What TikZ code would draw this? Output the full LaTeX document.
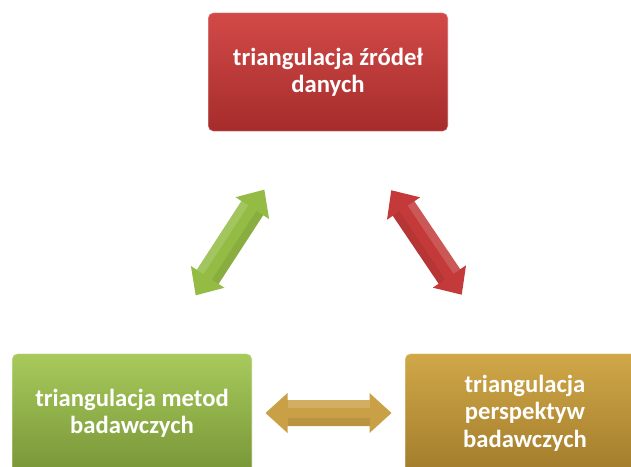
\documentclass[tikz,border=0pt]{standalone}
\usepackage{fontspec}
\setmainfont{Carlito}
\usetikzlibrary{calc}
\definecolor{redtop}{RGB}{210,74,72}
\definecolor{redbot}{RGB}{165,44,43}
\definecolor{greentop}{RGB}{168,202,92}
\definecolor{greenbot}{RGB}{120,150,55}
\definecolor{goldtop}{RGB}{208,168,72}
\definecolor{goldbot}{RGB}{163,124,44}
\definecolor{arrgreen}{RGB}{148,188,68}
\definecolor{arrred}{RGB}{196,58,58}
\definecolor{arrgold}{RGB}{202,160,70}
\tikzset{
  box/.style={rounded corners=4pt, minimum width=180pt, minimum height=89pt,
    align=center, text=white, font=\fontsize{18.5}{20.5}\selectfont\bfseries,
    draw=white, draw opacity=0.35, line width=0.8pt},
  redbox/.style={box, top color=redtop, bottom color=redbot},
  greenbox/.style={box, top color=greentop, bottom color=greenbot},
  goldbox/.style={box, top color=goldtop, bottom color=goldbot},
  dblarrow/.pic={
    \fill[#1] (-63,0) -- (-41,-20) -- (-41,-13) -- (41,-13) -- (41,-20) -- (63,0)
      -- (41,20) -- (41,13) -- (-41,13) -- (-41,20) -- cycle;
    \fill[white, opacity=0.15] (-41,-13) rectangle (41,-5);
    \fill[black, opacity=0.07] (-41,5) rectangle (41,13);
  }
}
\begin{document}
\begin{tikzpicture}[x=0.75pt, y=-0.75pt]
\useasboundingbox (0,0) rectangle (631,467);
\clip (0,0) rectangle (631,467);
\node[redbox] (top) at (328,72) {triangulacja źródeł\\danych};
\node[greenbox] (left) at (132,413) {triangulacja metod\\badawczych};
\node[goldbox] (right) at (525,413) {triangulacja\\perspektyw\\badawczych};
\pic[rotate=57] (ga) at ($(top)!0.5!(left)$) {dblarrow=arrgreen};
\pic[rotate=-56] (ra) at ($(top)!0.5!(right)$) {dblarrow=arrred};
\pic (ha) at ($(left)!0.5!(right)$) {dblarrow=arrgold};
\end{tikzpicture}
\end{document}
